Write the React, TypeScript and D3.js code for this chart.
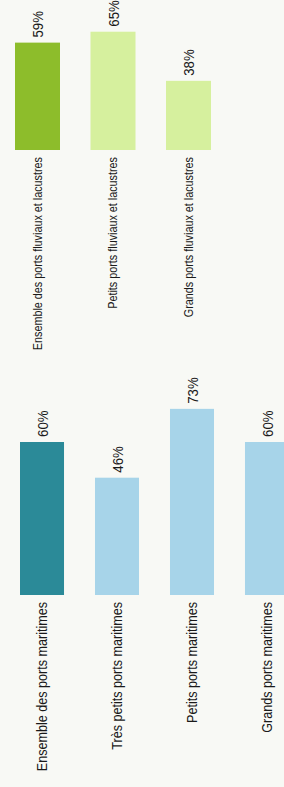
import React from 'react';
import * as d3 from 'd3';

// ports fluviaux et lacustres (haut)
const riverCats = [
  'Ensemble des ports fluviaux et lacustres',
  'Petits ports fluviaux et lacustres',
  'Grands ports fluviaux et lacustres',
];
const riverValues = [59, 65, 38];
const riverColors = ['#8dbd2b', '#d6f09e', '#d6f09e'];

// ports maritimes (bas)
const seaCats = [
  'Ensemble des ports maritimes',
  'Très petits ports maritimes',
  'Petits ports maritimes',
  'Grands ports maritimes',
];
const seaValues = [60, 46, 73, 60];
const seaColors = ['#2b8a98', '#a7d4e9', '#a7d4e9', '#a7d4e9'];

const width = 284;
const height = 787;
const font = '"Liberation Sans", Arial, sans-serif';

interface GroupProps {
  cats: string[];
  values: number[];
  colors: string[];
  x: d3.ScaleBand<string>;
  y: d3.ScaleLinear<number, number>;
  catSize: number;
}

const BarGroup: React.FC<GroupProps> = ({ cats, values, colors, x, y, catSize }) => {
  const base = y(0);
  return (
    <g>
      {cats.map((c, i) => {
        const cx = (x(c) ?? 0) + x.bandwidth() / 2;
        const top = y(values[i]);
        return (
          <g key={c}>
            <rect x={x(c)} y={top} width={x.bandwidth()} height={base - top} fill={colors[i]} />
            <text
              transform={`translate(${cx + 1},${top - 5}) rotate(-90) scale(0.95,1)`}
              dominantBaseline="central"
              fontSize={14}
              fontFamily={font}
              fill="#1a1a1a"
            >
              {values[i]}%
            </text>
            <text
              transform={`translate(${cx},${base + 7}) rotate(-90) scale(0.9,1)`}
              textAnchor="end"
              dominantBaseline="central"
              fontSize={catSize}
              fontFamily={font}
              fill="#1a1a1a"
            >
              {c}
            </text>
          </g>
        );
      })}
    </g>
  );
};

export default function App() {
  const xRiver = d3.scaleBand<string>().domain(riverCats).range([15, 211]).paddingInner(0.404).paddingOuter(0);
  const yRiver = d3.scaleLinear().domain([0, 100]).range([150, 150 - 182]);

  const xSea = d3.scaleBand<string>().domain(seaCats).range([20, 289]).paddingInner(0.413).paddingOuter(0);
  const ySea = d3.scaleLinear().domain([0, 100]).range([595, 595 - 255]);

  return (
    <svg
      width={width}
      height={height}
      style={{ position: 'fixed', top: 0, left: 0, background: '#f8f9f5' }}
    >
      <rect width={width} height={height} fill="#f8f9f5" />
      <BarGroup cats={riverCats} values={riverValues} colors={riverColors} x={xRiver} y={yRiver} catSize={12} />
      <BarGroup cats={seaCats} values={seaValues} colors={seaColors} x={xSea} y={ySea} catSize={14} />
    </svg>
  );
}
